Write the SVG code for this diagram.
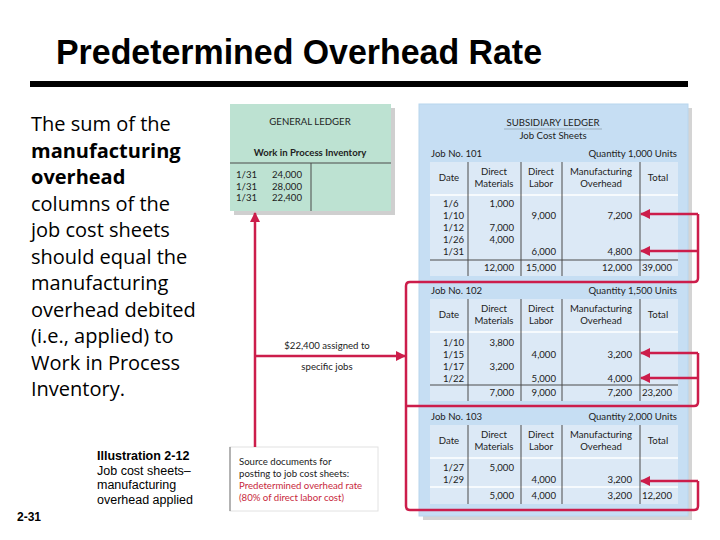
<svg xmlns="http://www.w3.org/2000/svg" width="720" height="540" viewBox="0 0 720 540">
<defs>
<marker id="ah" viewBox="0 0 10 10" refX="9" refY="5" markerWidth="4" markerHeight="4" orient="auto" markerUnits="strokeWidth">
<path d="M0,0 L10,5 L0,10 Z" fill="#cc1d4b"/>
</marker>
</defs>
<style>
.t{font-family:"Open Sans","DejaVu Sans",sans-serif;font-size:20px;fill:#000}
.b{font-weight:bold}
.l{font-family:Lato,"Open Sans",sans-serif;font-size:9.6px;fill:#222}
.c{text-anchor:middle}
.r{text-anchor:end}
.sep{stroke:#4a4a4a;stroke-width:1}
.red{stroke:#cc1d4b;stroke-width:2.5;fill:none}
.tbl{fill:#dce9f6}
.cap{font-family:"Liberation Sans",Arial,sans-serif;font-size:12.5px;fill:#000}
</style>
<rect width="720" height="540" fill="#fff"/>
<g id="title">
<text x="56" y="64" font-family="Liberation Sans,Arial,sans-serif" font-weight="bold" font-size="35" textLength="486" lengthAdjust="spacingAndGlyphs">Predetermined Overhead Rate</text>
<rect x="30" y="81" width="658" height="6" fill="#000"/>
</g>
<g id="explanation" class="t">
<text x="31" y="131">The sum of the</text>
<text x="31" y="157.5" class="t b">manufacturing</text>
<text x="31" y="184" class="t b">overhead</text>
<text x="31" y="210.5">columns of the</text>
<text x="31" y="237">job cost sheets</text>
<text x="31" y="263.5">should equal the</text>
<text x="31" y="290">manufacturing</text>
<text x="31" y="316.5">overhead debited</text>
<text x="31" y="343">(i.e., applied) to</text>
<text x="31" y="369.5">Work in Process</text>
<text x="31" y="396">Inventory.</text>
</g>
<g id="caption">
<text x="97" y="460" class="cap b">Illustration 2-12</text>
<text x="97" y="474.5" class="cap">Job cost sheets–</text>
<text x="97" y="489" class="cap">manufacturing</text>
<text x="97" y="503.5" class="cap">overhead applied</text>
<text x="17" y="521" font-family="Liberation Sans,Arial,sans-serif" font-weight="bold" font-size="12">2-31</text>
</g>
<g id="general-ledger">
<rect x="234" y="108" width="161" height="107" fill="#cfcfcf"/>
<rect x="230" y="104" width="161" height="107" fill="#bde2d2"/>
<text x="310" y="125" class="l c" font-size="10">GENERAL LEDGER</text>
<text x="310" y="156" class="l c b" font-size="10.5">Work in Process Inventory</text>
<line x1="230" y1="163" x2="391" y2="163" class="sep"/>
<line x1="311" y1="163" x2="311" y2="211" class="sep"/>
<text x="236" y="178" class="l">1/31</text><text x="272" y="178" class="l">24,000</text>
<text x="236" y="189.5" class="l">1/31</text><text x="272" y="189.5" class="l">28,000</text>
<text x="236" y="201" class="l">1/31</text><text x="272" y="201" class="l">22,400</text>
</g>
<g id="source-documents">
<rect x="230" y="447" width="148" height="64" fill="#fff" stroke="#e2e2e2"/>
<line x1="230" y1="447" x2="230" y2="511" stroke="#777"/>
<text x="239" y="465" class="l" font-size="9.5">Source documents for</text>
<text x="239" y="477" class="l" font-size="9.5">posting to job cost sheets:</text>
<text x="239" y="489" class="l" font-size="9.5" style="fill:#c8283c">Predetermined overhead rate</text>
<text x="239" y="501" class="l" font-size="9.5" style="fill:#c8283c">(80% of direct labor cost)</text>
</g>
<g id="subsidiary-ledger">
<rect x="423" y="108" width="269" height="412" fill="#d4d4d4"/>
<rect x="419" y="104" width="269" height="412" fill="#c6def3" stroke="#b8d6ee"/>
<text x="553" y="126" class="l c" font-size="10">SUBSIDIARY LEDGER</text>
<line x1="504" y1="129" x2="602" y2="129" stroke="#7a8a99" stroke-width="0.6"/>
<text x="553" y="139" class="l c" font-size="10">Job Cost Sheets</text>
</g>
<g id="job-101">
<text x="431" y="157" class="l">Job No. 101</text>
<text x="677" y="157" class="l r">Quantity 1,000 Units</text>
<rect x="430" y="162" width="248" height="114" class="tbl"/>
<line x1="430" y1="195" x2="678" y2="195" stroke="#fff" stroke-width="1.5"/>
<line x1="430" y1="260" x2="678" y2="260" class="sep"/>
<line x1="468" y1="162" x2="468" y2="276" class="sep"/>
<line x1="521" y1="162" x2="521" y2="276" class="sep"/>
<line x1="562" y1="162" x2="562" y2="276" class="sep"/>
<line x1="640" y1="162" x2="640" y2="276" class="sep"/>
<text x="449" y="181" class="l c">Date</text>
<text x="494" y="175" class="l c">Direct</text><text x="494" y="187" class="l c">Materials</text>
<text x="541" y="175" class="l c">Direct</text><text x="541" y="187" class="l c">Labor</text>
<text x="601" y="175" class="l c">Manufacturing</text><text x="601" y="187" class="l c">Overhead</text>
<text x="658" y="181" class="l c">Total</text>
<text x="443" y="207" class="l">1/6</text><text x="514" y="207" class="l r">1,000</text>
<text x="443" y="219" class="l">1/10</text><text x="556" y="219" class="l r">9,000</text><text x="632" y="219" class="l r">7,200</text>
<text x="443" y="231" class="l">1/12</text><text x="514" y="231" class="l r">7,000</text>
<text x="443" y="243" class="l">1/26</text><text x="514" y="243" class="l r">4,000</text>
<text x="443" y="255" class="l">1/31</text><text x="556" y="255" class="l r">6,000</text><text x="632" y="255" class="l r">4,800</text>
<text x="514" y="271" class="l r">12,000</text><text x="556" y="271" class="l r">15,000</text><text x="632" y="271" class="l r">12,000</text><text x="672" y="271" class="l r">39,000</text>
</g>
<g id="job-102">
<text x="431" y="294" class="l">Job No. 102</text>
<text x="677" y="294" class="l r">Quantity 1,500 Units</text>
<rect x="430" y="299" width="248" height="102" class="tbl"/>
<line x1="430" y1="332" x2="678" y2="332" stroke="#fff" stroke-width="1.5"/>
<line x1="430" y1="385" x2="678" y2="385" class="sep"/>
<line x1="468" y1="299" x2="468" y2="401" class="sep"/>
<line x1="521" y1="299" x2="521" y2="401" class="sep"/>
<line x1="562" y1="299" x2="562" y2="401" class="sep"/>
<line x1="640" y1="299" x2="640" y2="401" class="sep"/>
<text x="449" y="318" class="l c">Date</text>
<text x="494" y="312" class="l c">Direct</text><text x="494" y="324" class="l c">Materials</text>
<text x="541" y="312" class="l c">Direct</text><text x="541" y="324" class="l c">Labor</text>
<text x="601" y="312" class="l c">Manufacturing</text><text x="601" y="324" class="l c">Overhead</text>
<text x="658" y="318" class="l c">Total</text>
<text x="443" y="346" class="l">1/10</text><text x="514" y="346" class="l r">3,800</text>
<text x="443" y="358" class="l">1/15</text><text x="556" y="358" class="l r">4,000</text><text x="632" y="358" class="l r">3,200</text>
<text x="443" y="370" class="l">1/17</text><text x="514" y="370" class="l r">3,200</text>
<text x="443" y="382" class="l">1/22</text><text x="556" y="382" class="l r">5,000</text><text x="632" y="382" class="l r">4,000</text>
<text x="514" y="396" class="l r">7,000</text><text x="556" y="396" class="l r">9,000</text><text x="632" y="396" class="l r">7,200</text><text x="672" y="396" class="l r">23,200</text>
</g>
<g id="job-103">
<text x="431" y="420" class="l">Job No. 103</text>
<text x="677" y="420" class="l r">Quantity 2,000 Units</text>
<rect x="430" y="425" width="248" height="79" class="tbl"/>
<line x1="430" y1="458" x2="678" y2="458" stroke="#fff" stroke-width="1.5"/>
<line x1="430" y1="487" x2="678" y2="487" stroke="#fff" stroke-width="1.5"/>
<line x1="468" y1="425" x2="468" y2="504" class="sep"/>
<line x1="521" y1="425" x2="521" y2="504" class="sep"/>
<line x1="562" y1="425" x2="562" y2="504" class="sep"/>
<line x1="640" y1="425" x2="640" y2="504" class="sep"/>
<text x="449" y="444" class="l c">Date</text>
<text x="494" y="438" class="l c">Direct</text><text x="494" y="450" class="l c">Materials</text>
<text x="541" y="438" class="l c">Direct</text><text x="541" y="450" class="l c">Labor</text>
<text x="601" y="438" class="l c">Manufacturing</text><text x="601" y="450" class="l c">Overhead</text>
<text x="658" y="444" class="l c">Total</text>
<text x="443" y="471" class="l">1/27</text><text x="514" y="471" class="l r">5,000</text>
<text x="443" y="483" class="l">1/29</text><text x="556" y="483" class="l r">4,000</text><text x="632" y="483" class="l r">3,200</text>
<text x="514" y="499" class="l r">5,000</text><text x="556" y="499" class="l r">4,000</text><text x="632" y="499" class="l r">3,200</text><text x="672" y="499" class="l r">12,200</text>
</g>
<g id="connectors">
<path class="red" d="M698,214 V278 Q698,282 694,282 H410 Q406,282 406,286 V506 Q406,510 410,510 H694 Q698,510 698,506 V481"/>
<path class="red" d="M698,353 V402 Q698,406 694,406 H406"/>
<line class="red" x1="698" y1="214" x2="641" y2="214" marker-end="url(#ah)"/>
<line class="red" x1="698" y1="251" x2="641" y2="251" marker-end="url(#ah)"/>
<line class="red" x1="698" y1="353" x2="641" y2="353" marker-end="url(#ah)"/>
<line class="red" x1="698" y1="378" x2="641" y2="378" marker-end="url(#ah)"/>
<line class="red" x1="698" y1="481" x2="641" y2="481" marker-end="url(#ah)"/>
<line class="red" x1="255" y1="447" x2="255" y2="213" marker-end="url(#ah)"/>
<line class="red" x1="255" y1="356" x2="405" y2="356" marker-end="url(#ah)"/>
<text x="327" y="349" class="l c">$22,400 assigned to</text>
<text x="327" y="370" class="l c">specific jobs</text>
</g>
</svg>
